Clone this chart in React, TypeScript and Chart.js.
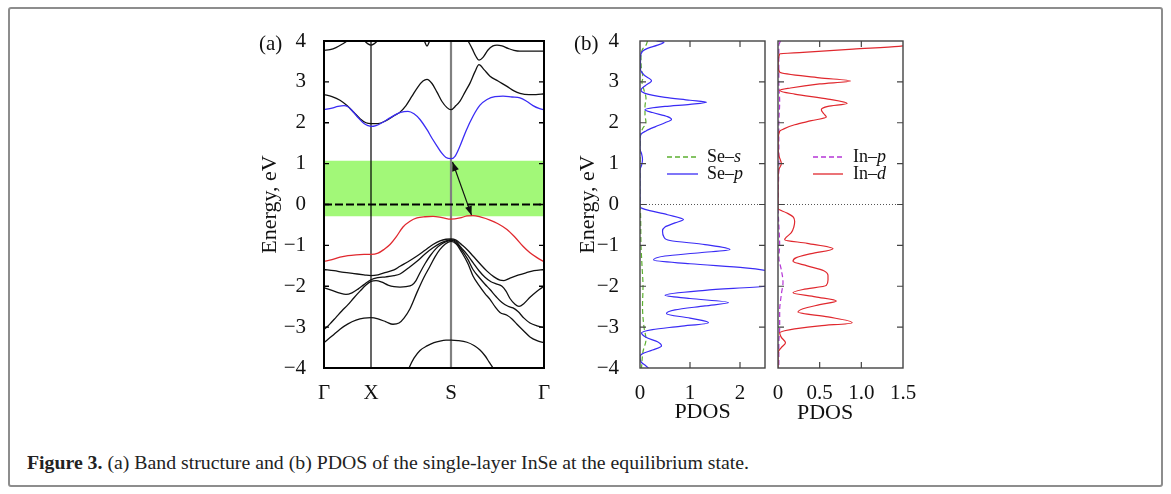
import React, { useEffect, useRef } from 'react';
import { Chart, registerables } from 'chart.js';
Chart.register(...registerables);

const FONT = '"Liberation Serif", "Times New Roman", serif';

// ---------- axes ----------
const E_MIN = -4;
const E_MAX = 4;
const E_TICKS = [-4, -3, -2, -1, 0, 1, 2, 3, 4];
const K_MAX = 220;
const K_TICKS = [0, 47, 127, 220];
const K_LABELS = ['Γ', 'X', 'S', 'Γ'];
const B1_X_MAX = 2.5;
const B1_X_TICKS = [0, 1, 2];
const B1_X_LABELS = ['0', '1', '2'];
const B2_X_MAX = 1.5;
const B2_X_TICKS = [0, 0.5, 1.0, 1.5];
const B2_X_LABELS = ['0', '0.5', '1.0', '1.5'];

// ---------- band structure (k, E) ----------
const GAP = [-0.29, 1.07];
const ARROW_FROM = [128.5, 1.04];
const ARROW_TO = [147.5, -0.26];

const BAND_TOP_A = [[0, 3.77], [6, 3.79], [12, 3.84], [18, 3.92], [23, 4.0], [27, 4.1]];
const BAND_TOP_B = [[36, 4.12], [40, 4.02], [44, 3.93], [47, 3.9], [50, 3.93], [54, 4.02], [58, 4.12]];
const BAND_TOP_C = [[97, 4.12], [100, 4.02], [103, 3.88], [106, 4.02], [109, 4.12]];
const BAND_TOP_D = [[140, 4.12], [144, 4.0], [148, 3.82], [152, 3.62], [155, 3.53], [159, 3.6], [164, 3.78], [169, 3.88], [173, 3.9], [178, 3.88], [184, 3.82], [190, 3.77], [196, 3.75], [208, 3.75], [220, 3.75]];
const BAND_C2 = [[0, 2.69], [8, 2.64], [16, 2.55], [23, 2.42], [30, 2.25], [36, 2.1], [42, 2.0], [47, 1.98], [54, 1.98], [62, 2.05], [70, 2.17], [76, 2.26], [82, 2.42], [88, 2.65], [94, 2.88], [99, 3.02], [103, 3.06], [108, 2.96], [113, 2.75], [118, 2.52], [123, 2.37], [127, 2.32], [132, 2.42], [136, 2.53], [141, 2.75], [146, 2.97], [151, 3.25], [155, 3.42], [160, 3.3], [166, 3.14], [174, 3.02], [183, 2.89], [190, 2.78], [196, 2.72], [205, 2.69], [212, 2.69], [220, 2.71]];
const BAND_CB = [[0, 2.32], [8, 2.36], [14, 2.4], [20, 2.42], [24, 2.39], [28, 2.3], [34, 2.13], [40, 1.98], [44, 1.93], [47, 1.91], [52, 1.93], [58, 2.0], [66, 2.12], [74, 2.23], [80, 2.27], [84, 2.28], [90, 2.22], [96, 2.08], [103, 1.83], [108, 1.62], [113, 1.43], [118, 1.25], [122, 1.15], [127, 1.12], [131, 1.18], [136, 1.43], [142, 1.8], [149, 2.16], [156, 2.43], [163, 2.57], [171, 2.64], [179, 2.65], [188, 2.63], [196, 2.61], [203, 2.52], [209, 2.42], [215, 2.35], [220, 2.32]];
const BAND_VB = [[0, -1.39], [8, -1.35], [16, -1.29], [24, -1.25], [32, -1.23], [40, -1.22], [47, -1.22], [54, -1.19], [60, -1.1], [66, -0.98], [72, -0.8], [79, -0.55], [86, -0.41], [93, -0.33], [101, -0.3], [109, -0.29], [118, -0.32], [127, -0.36], [136, -0.33], [143, -0.28], [149, -0.27], [157, -0.31], [166, -0.38], [174, -0.47], [183, -0.61], [191, -0.8], [199, -1.02], [206, -1.18], [213, -1.3], [220, -1.4]];
const BAND_L1 = [[0, -1.59], [10, -1.62], [20, -1.66], [30, -1.69], [40, -1.72], [47, -1.74], [54, -1.72], [62, -1.66], [70, -1.6], [76, -1.51], [84, -1.4], [93, -1.26], [101, -1.12], [109, -0.98], [116, -0.89], [122, -0.85], [127, -0.84], [132, -0.87], [138, -0.99], [143, -1.1], [149, -1.26], [156, -1.45], [163, -1.63], [170, -1.77], [176, -1.85], [180, -1.86], [186, -1.8], [194, -1.73], [202, -1.67], [210, -1.62], [220, -1.59]];
const BAND_L2 = [[0, -2.04], [8, -2.1], [16, -2.17], [22, -2.2], [28, -2.16], [34, -2.07], [40, -1.96], [47, -1.84], [54, -1.79], [62, -1.77], [70, -1.74], [76, -1.7], [84, -1.56], [93, -1.39], [101, -1.21], [109, -1.06], [116, -0.95], [122, -0.89], [127, -0.86], [132, -0.9], [137, -1.05], [143, -1.22], [149, -1.42], [155, -1.62], [161, -1.78], [167, -1.89], [173, -1.95], [178, -2.0], [182, -2.12], [186, -2.3], [191, -2.44], [195, -2.49], [200, -2.42], [206, -2.27], [213, -2.12], [220, -2.0]];
const BAND_L3 = [[0, -3.06], [6, -2.92], [12, -2.76], [18, -2.6], [24, -2.45], [30, -2.28], [36, -2.12], [42, -1.97], [47, -1.88], [52, -1.86], [58, -1.9], [64, -1.97], [70, -2.01], [76, -2.02], [82, -2.01], [88, -1.97], [92, -1.86], [96, -1.67], [101, -1.45], [106, -1.26], [112, -1.08], [118, -0.96], [123, -0.9], [127, -0.88], [132, -0.93], [138, -1.12], [144, -1.35], [149, -1.59], [155, -1.78], [161, -1.95], [166, -2.08], [172, -2.25], [178, -2.4], [184, -2.49], [189, -2.53], [194, -2.62], [200, -2.78], [206, -2.9], [213, -2.97], [220, -3.01]];
const BAND_L4 = [[0, -3.38], [8, -3.22], [16, -3.05], [24, -2.92], [32, -2.83], [40, -2.78], [47, -2.77], [54, -2.8], [62, -2.87], [69, -2.93], [75, -2.9], [80, -2.78], [86, -2.55], [93, -2.15], [100, -1.78], [106, -1.51], [111, -1.28], [116, -1.1], [121, -0.97], [127, -0.9], [132, -0.96], [138, -1.18], [144, -1.45], [149, -1.75], [155, -1.98], [161, -2.18], [166, -2.32], [171, -2.5], [176, -2.64], [183, -2.71], [188, -2.8], [193, -2.93], [200, -3.1], [206, -3.24], [213, -3.33], [220, -3.38]];
const BAND_L5 = [[80, -4.3], [85, -4.0], [90, -3.76], [96, -3.57], [103, -3.46], [110, -3.38], [116, -3.34], [122, -3.32], [127, -3.32], [134, -3.33], [143, -3.37], [150, -3.45], [156, -3.56], [161, -3.7], [165, -3.85], [169, -4.0], [173, -4.2]];

// ---------- PDOS (E, value) ----------
const SE_S = [[4.0, 0.15], [3.9, 0.12], [3.8, 0.05], [3.6, 0.02], [3.3, 0.03], [3.1, 0.06], [3.0, 0.04], [2.8, 0.08], [2.6, 0.12], [2.4, 0.1], [2.2, 0.1], [2.0, 0.12], [1.85, 0.05], [1.7, 0.01], [1.0, 0.0], [0.0, 0.0], [-0.2, 0.01], [-1.0, 0.02], [-1.5, 0.04], [-2.0, 0.06], [-2.5, 0.05], [-3.0, 0.08], [-3.3, 0.12], [-3.6, 0.06], [-4.0, 0.03]];
const SE_P = [[4.0, 0.33], [3.97, 0.48], [3.9, 0.35], [3.82, 0.15], [3.75, 0.05], [3.6, 0.01], [3.3, 0.01], [3.15, 0.1], [3.03, 0.23], [2.92, 0.12], [2.8, 0.02], [2.72, 0.1], [2.62, 0.5], [2.55, 1.0], [2.5, 1.33], [2.45, 1.0], [2.4, 0.5], [2.32, 0.1], [2.25, 0.25], [2.15, 0.55], [2.08, 0.63], [2.0, 0.5], [1.9, 0.3], [1.8, 0.12], [1.72, 0.02], [1.6, 0.0], [1.35, 0.0], [1.25, 0.03], [1.1, 0.05], [0.95, 0.03], [0.85, 0.0], [-0.05, 0.0], [-0.12, 0.1], [-0.25, 0.55], [-0.37, 0.87], [-0.45, 0.7], [-0.55, 0.5], [-0.65, 0.45], [-0.8, 0.48], [-0.88, 0.6], [-0.98, 1.3], [-1.1, 1.8], [-1.18, 1.2], [-1.26, 0.5], [-1.36, 0.27], [-1.45, 1.0], [-1.55, 2.1], [-1.61, 2.5], [-1.8, 3.2], [-2.0, 2.5], [-2.1, 1.3], [-2.22, 0.5], [-2.3, 1.0], [-2.4, 1.77], [-2.48, 1.3], [-2.58, 0.7], [-2.67, 0.53], [-2.78, 1.0], [-2.89, 1.37], [-2.98, 0.8], [-3.06, 0.25], [-3.14, 0.03], [-3.25, 0.12], [-3.36, 0.35], [-3.46, 0.43], [-3.56, 0.25], [-3.65, 0.05], [-3.72, 0.0], [-3.85, 0.02], [-3.95, 0.12], [-4.0, 0.17]];
const IN_P = [[4.0, 0.03], [3.9, 0.01], [3.0, 0.01], [2.5, 0.02], [2.0, 0.01], [1.0, 0.01], [0.0, 0.0], [-0.5, 0.01], [-1.0, 0.02], [-1.3, 0.01], [-1.6, 0.04], [-1.9, 0.06], [-2.2, 0.04], [-2.6, 0.02], [-3.0, 0.02], [-3.4, 0.01], [-4.0, 0.01]];
const IN_D = [[4.0, 2.2], [3.92, 1.6], [3.87, 1.45], [3.8, 0.9], [3.72, 0.3], [3.68, 0.02], [3.4, 0.0], [3.24, 0.02], [3.1, 0.5], [3.02, 0.87], [2.95, 0.5], [2.85, 0.15], [2.79, 0.02], [2.7, 0.2], [2.58, 0.6], [2.47, 0.83], [2.4, 0.6], [2.32, 0.52], [2.22, 0.55], [2.14, 0.58], [2.05, 0.4], [1.95, 0.2], [1.85, 0.07], [1.79, 0.02], [1.5, 0.0], [1.2, 0.01], [1.0, 0.04], [0.85, 0.01], [0.5, 0.0], [-0.1, 0.0], [-0.2, 0.1], [-0.3, 0.18], [-0.41, 0.2], [-0.55, 0.19], [-0.69, 0.16], [-0.8, 0.1], [-0.86, 0.08], [-0.95, 0.35], [-1.08, 0.66], [-1.2, 0.4], [-1.3, 0.22], [-1.39, 0.18], [-1.5, 0.35], [-1.62, 0.55], [-1.74, 0.6], [-1.85, 0.6], [-1.98, 0.58], [-2.08, 0.3], [-2.16, 0.18], [-2.26, 0.45], [-2.36, 0.7], [-2.45, 0.5], [-2.55, 0.3], [-2.63, 0.24], [-2.75, 0.6], [-2.89, 0.89], [-2.97, 0.5], [-3.06, 0.15], [-3.14, 0.02], [-3.25, 0.04], [-3.38, 0.09], [-3.5, 0.04], [-3.63, 0.0], [-4.0, 0.0]];

const SE_LEGEND = [['Se–', 's'], ['Se–', 'p']];
const IN_LEGEND = [['In–', 'p'], ['In–', 'd']];

const C_BLACK = '#111111';
const C_BLUE = '#3a2cf5';
const C_RED = '#e0282e';
const C_GREEN = '#a2f878';
const C_SES = '#5cb030';
const C_INP = '#b536d6';

const fmtE = (v: number) => (v < 0 ? '−' + Math.abs(v) : String(v));

const kE = (arr: number[][]) => arr.map(([k, e]) => ({ x: k, y: e }));
const eV = (arr: number[][]) => arr.map(([e, v]) => ({ x: v, y: e }));

function framePlugin(cfg: any) {
  return {
    id: 'frame',
    afterDraw(chart: any) {
      const { ctx, chartArea, scales } = chart;
      const { left, right, top, bottom } = chartArea;
      ctx.save();
      ctx.setLineDash([]);
      ctx.lineWidth = cfg.tickWidth;
      ctx.strokeStyle = cfg.color;
      ctx.beginPath();
      for (const v of cfg.yTicks) {
        const y = scales.y.getPixelForValue(v);
        ctx.moveTo(left, y); ctx.lineTo(left + cfg.len, y);
        ctx.moveTo(right, y); ctx.lineTo(right - cfg.len, y);
      }
      for (const v of cfg.xTicks) {
        const x = scales.x.getPixelForValue(v);
        ctx.moveTo(x, bottom); ctx.lineTo(x, bottom - cfg.len);
        ctx.moveTo(x, top); ctx.lineTo(x, top + cfg.len);
      }
      ctx.stroke();
      ctx.lineWidth = cfg.width;
      ctx.strokeRect(left, top, right - left, bottom - top);
      ctx.restore();
    },
  };
}

function arrowPlugin() {
  const head = (ctx: any, x1: number, y1: number, x0: number, y0: number) => {
    const a = Math.atan2(y1 - y0, x1 - x0);
    const L = 9, W = 3.5;
    ctx.beginPath();
    ctx.moveTo(x1, y1);
    ctx.lineTo(x1 - L * Math.cos(a) + W * Math.sin(a), y1 - L * Math.sin(a) - W * Math.cos(a));
    ctx.lineTo(x1 - L * Math.cos(a) - W * Math.sin(a), y1 - L * Math.sin(a) + W * Math.cos(a));
    ctx.closePath();
    ctx.fill();
  };
  return {
    id: 'arrow',
    afterDatasetsDraw(chart: any) {
      const { ctx, scales } = chart;
      const x0 = scales.x.getPixelForValue(ARROW_FROM[0]);
      const y0 = scales.y.getPixelForValue(ARROW_FROM[1]);
      const x1 = scales.x.getPixelForValue(ARROW_TO[0]);
      const y1 = scales.y.getPixelForValue(ARROW_TO[1]);
      ctx.save();
      ctx.strokeStyle = '#111';
      ctx.fillStyle = '#111';
      ctx.lineWidth = 1.2;
      ctx.beginPath();
      ctx.moveTo(x0, y0); ctx.lineTo(x1, y1);
      ctx.stroke();
      head(ctx, x0, y0, x1, y1);
      head(ctx, x1, y1, x0, y0);
      ctx.restore();
    },
  };
}

const LEGEND_SIZE = 18;

function legendPlugin(items: any[]) {
  return {
    id: 'pdosLegend',
    afterDatasetsDraw(chart: any) {
      const { ctx, chartArea } = chart;
      ctx.save();
      items.forEach((it) => {
        const y = chartArea.top + it.dy;
        ctx.strokeStyle = it.color;
        ctx.lineWidth = 1.3;
        ctx.setLineDash(it.dash);
        ctx.beginPath();
        ctx.moveTo(chartArea.left + it.x0, y);
        ctx.lineTo(chartArea.left + it.x1, y);
        ctx.stroke();
        ctx.setLineDash([]);
        ctx.fillStyle = '#111';
        ctx.textBaseline = 'middle';
        ctx.font = `${LEGEND_SIZE}px ${FONT}`;
        const tx = chartArea.left + it.tx;
        ctx.fillText(it.label[0], tx, y);
        const w = ctx.measureText(it.label[0]).width;
        ctx.font = `italic ${LEGEND_SIZE}px ${FONT}`;
        ctx.fillText(it.label[1], tx + w, y);
      });
      ctx.restore();
    },
  };
}

const tickFont = { family: FONT, size: 21 };
const titleFont = { family: FONT, size: 22 };

const noPad = (s: any) => {
  s.paddingTop = 0; s.paddingBottom = 0; s.paddingLeft = 0; s.paddingRight = 0;
};

function lineDs(data: any[], color: string, width = 1.3, extra: any = {}) {
  return {
    data,
    borderColor: color,
    borderWidth: width,
    pointRadius: 0,
    fill: false,
    cubicInterpolationMode: 'monotone',
    spanGaps: false,
    ...extra,
  };
}

function bandConfig(): any {
  const bands = [BAND_TOP_A, BAND_TOP_B, BAND_TOP_C, BAND_TOP_D, BAND_C2, BAND_L1, BAND_L2, BAND_L3, BAND_L4, BAND_L5];
  const datasets: any[] = [
    lineDs(kE(BAND_CB), C_BLUE, 1.3),
    lineDs(kE(BAND_VB), C_RED, 1.3),
    ...bands.map((b) => lineDs(kE(b), C_BLACK, 1.3)),
    lineDs([{ x: K_TICKS[1], y: E_MIN }, { x: K_TICKS[1], y: E_MAX }], '#000', 1.2, { cubicInterpolationMode: 'default', tension: 0, order: 5 }),
    lineDs([{ x: K_TICKS[2], y: E_MIN }, { x: K_TICKS[2], y: E_MAX }], '#808080', 2.2, { cubicInterpolationMode: 'default', tension: 0, order: 5 }),
    lineDs([{ x: 0, y: 0 }, { x: K_MAX, y: 0 }], '#000', 1.8, { cubicInterpolationMode: 'default', tension: 0, borderDash: [8, 3], order: 4 }),
    { data: [{ x: 0, y: GAP[1] }, { x: K_MAX, y: GAP[1] }], borderWidth: 0, pointRadius: 0, backgroundColor: C_GREEN, borderColor: 'rgba(0,0,0,0)', fill: '+1', order: 10 },
    { data: [{ x: 0, y: GAP[0] }, { x: K_MAX, y: GAP[0] }], borderWidth: 0, pointRadius: 0, borderColor: 'rgba(0,0,0,0)', fill: false, order: 10 },
  ];
  return {
    type: 'line',
    data: { datasets },
    options: {
      animation: false,
      responsive: false,
      events: [],
      layout: { padding: { top: 11, right: 16, left: 0, bottom: 0 } },
      plugins: { legend: { display: false }, tooltip: { enabled: false }, filler: { drawTime: 'beforeDatasetsDraw' } },
      scales: {
        x: {
          type: 'linear', min: 0, max: K_MAX,
          grid: { display: false }, border: { display: false },
          afterBuildTicks: (s: any) => { s.ticks = K_TICKS.map((v) => ({ value: v })); },
          afterFit: (s: any) => { s.height = 62; noPad(s); },
          ticks: { font: tickFont, color: '#111', padding: 5, maxRotation: 0, autoSkip: false, callback: (_v: any, i: number) => K_LABELS[i] },
        },
        y: {
          type: 'linear', min: E_MIN, max: E_MAX,
          grid: { display: false }, border: { display: false },
          afterBuildTicks: (s: any) => { s.ticks = E_TICKS.map((v) => ({ value: v })); },
          afterFit: (s: any) => { s.width = 74; noPad(s); },
          ticks: { font: tickFont, color: '#111', padding: 10, callback: (v: any) => fmtE(v) },
          title: { display: true, text: 'Energy, eV', font: titleFont, color: '#111', padding: { top: 7, bottom: 0 } },
        },
      },
    },
    plugins: [framePlugin({ color: '#000', width: 2, tickWidth: 1.3, len: 5, yTicks: E_TICKS.slice(1, -1), xTicks: [] }), arrowPlugin()],
  };
}

function pdosConfig(which: 'se' | 'in'): any {
  const se = which === 'se';
  const xMax = se ? B1_X_MAX : B2_X_MAX;
  const xTicks = se ? B1_X_TICKS : B2_X_TICKS;
  const xLabels = se ? B1_X_LABELS : B2_X_LABELS;
  const vert = { indexAxis: 'y' };
  const datasets: any[] = se
    ? [
        lineDs(eV(SE_P), C_BLUE, 1.2, vert),
        lineDs(eV(SE_S), C_SES, 1.2, { ...vert, borderDash: [5, 3] }),
      ]
    : [
        lineDs(eV(IN_D), C_RED, 1.2, vert),
        lineDs(eV(IN_P), C_INP, 1.2, { ...vert, borderDash: [5, 3] }),
      ];
  datasets.push(lineDs([{ x: 0, y: 0 }, { x: xMax, y: 0 }], '#555', 1, { cubicInterpolationMode: 'default', tension: 0, borderDash: [1, 2], order: 5 }));
  const legendItems = se
    ? [
        { label: SE_LEGEND[0], color: C_SES, dash: [5, 3], dy: 116, x0: 27, x1: 58, tx: 67 },
        { label: SE_LEGEND[1], color: C_BLUE, dash: [], dy: 133, x0: 27, x1: 58, tx: 67 },
      ]
    : [
        { label: IN_LEGEND[0], color: C_INP, dash: [5, 3], dy: 116, x0: 35, x1: 65, tx: 75 },
        { label: IN_LEGEND[1], color: C_RED, dash: [], dy: 133, x0: 35, x1: 65, tx: 75 },
      ];
  return {
    type: 'line',
    data: { datasets },
    options: {
      animation: false,
      responsive: false,
      events: [],
      layout: { padding: { top: 11, right: se ? 10 : 17, left: 0, bottom: 0 } },
      plugins: { legend: { display: false }, tooltip: { enabled: false } },
      scales: {
        x: {
          type: 'linear', min: 0, max: xMax,
          grid: { display: false }, border: { display: false },
          afterBuildTicks: (s: any) => { s.ticks = xTicks.map((v) => ({ value: v })); },
          afterFit: (s: any) => { s.height = 62; noPad(s); },
          ticks: { font: tickFont, color: '#111', padding: 5, maxRotation: 0, autoSkip: false, callback: (_v: any, i: number) => xLabels[i] },
          title: { display: se, text: 'PDOS', font: titleFont, color: '#111', padding: { top: 0, bottom: 5 } },
        },
        y: {
          type: 'linear', min: E_MIN, max: E_MAX,
          grid: { display: false }, border: { display: false },
          afterBuildTicks: (s: any) => { s.ticks = E_TICKS.map((v) => ({ value: v })); },
          afterFit: (s: any) => { s.width = se ? 80 : 8; noPad(s); },
          ticks: { display: se, font: tickFont, color: '#111', padding: 13, callback: (v: any) => fmtE(v) },
          title: { display: se, text: 'Energy, eV', font: titleFont, color: '#111', padding: { top: 15, bottom: 0 } },
        },
      },
    },
    plugins: [
      framePlugin({ color: '#444', width: 1.4, tickWidth: 1.2, len: 6, yTicks: E_TICKS.slice(1, -1), xTicks: xTicks.slice(1).filter((v) => v < xMax) }),
      legendPlugin(legendItems),
    ],
  };
}

function ChartBox({ make, left, top, width, height }: any) {
  const ref = useRef<HTMLCanvasElement | null>(null);
  useEffect(() => {
    const chart = new Chart(ref.current as HTMLCanvasElement, make());
    return () => chart.destroy();
  }, []);
  return (
    <canvas
      ref={ref}
      width={width}
      height={height}
      style={{ position: 'absolute', left, top, width, height }}
    />
  );
}

const textStyle: React.CSSProperties = {
  position: 'absolute',
  fontFamily: FONT,
  fontSize: 21,
  lineHeight: '22px',
  color: '#111',
  whiteSpace: 'nowrap',
};

export default function App() {
  return (
    <div style={{ position: 'absolute', left: 0, top: 0, width: 1171, height: 494, background: '#fff', overflow: 'hidden' }}>
      <div
        style={{
          position: 'absolute', left: 8, top: 7, width: 1155, height: 480,
          boxSizing: 'border-box', border: '2px solid #8d8d8d', borderRadius: 3,
        }}
      />
      <ChartBox make={bandConfig} left={250} top={30} width={310} height={400} />
      <ChartBox make={() => pdosConfig('se')} left={560} top={30} width={215} height={400} />
      <ChartBox make={() => pdosConfig('in')} left={770} top={30} width={150} height={400} />
      <div style={{ ...textStyle, left: 259, top: 32 }}>(a)</div>
      <div style={{ ...textStyle, left: 574, top: 32 }}>(b)</div>
      <div style={{ ...textStyle, fontSize: 22, left: 797, top: 401 }}>PDOS</div>
      <div style={{ ...textStyle, fontSize: 19.8, lineHeight: '20px', left: 27, top: 452, color: '#222' }}>
        <b>Figure 3.</b> (a) Band structure and (b) PDOS of the single-layer InSe at the equilibrium state.
      </div>
    </div>
  );
}
